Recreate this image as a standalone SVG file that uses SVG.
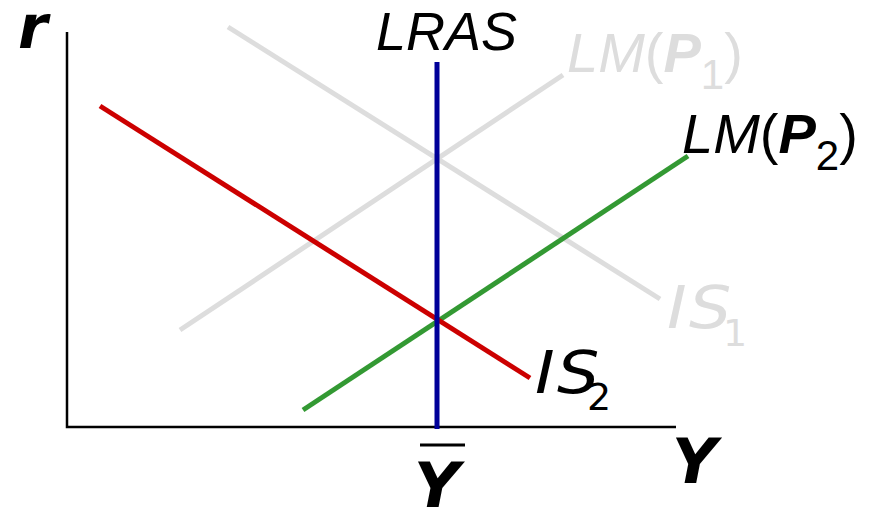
<svg xmlns="http://www.w3.org/2000/svg" width="877" height="510" viewBox="0 0 877 510">
<style>
.ax{stroke:#000;stroke-width:2.5;fill:none}
.crv{stroke-width:5;fill:none;stroke-linecap:butt}
.ar{font-family:"Liberation Sans",Arial,sans-serif;font-style:italic}
.vd{font-family:"DejaVu Sans",Verdana,sans-serif;font-style:oblique}
.bd{font-weight:bold}
.up{font-style:normal}
</style>
<rect width="877" height="510" fill="#fff"/>
<g id="axes">
<polyline class="ax" points="67,32 67,427 676,427"/>
</g>
<g id="connectors">
<line id="lm1" class="crv" stroke="#DDDDDD" x1="180" y1="330" x2="563" y2="75"/>
<line id="is1" class="crv" stroke="#DDDDDD" x1="228" y1="27" x2="660" y2="299"/>
<line id="lm2" class="crv" stroke="#339933" x1="303" y1="410" x2="688" y2="156"/>
<line id="is2" class="crv" stroke="#CC0000" x1="100" y1="106" x2="530" y2="378"/>
<line id="lras" class="crv" stroke="#000099" x1="437" y1="62" x2="437" y2="429"/>
</g>
<g id="label-r"><text class="vd bd" x="18" y="48" font-size="60">r</text></g>
<g id="label-lras"><text class="ar" x="376" y="50" font-size="54">LRAS</text></g>
<g id="label-lm1" fill="#DDDDDD"><text class="ar" x="567" y="72" font-size="56">LM<tspan class="up">(</tspan><tspan class="bd">P</tspan><tspan class="up" font-size="42" dy="17">1</tspan><tspan class="up" dy="-17">)</tspan></text></g>
<g id="label-lm2" fill="#000"><text class="ar" x="682" y="153" font-size="56">LM<tspan class="up">(</tspan><tspan class="bd">P</tspan><tspan class="up" font-size="42" dy="17">2</tspan><tspan class="up" dy="-17">)</tspan></text></g>
<g id="label-is1" fill="#DDDDDD"><text class="vd" transform="translate(667,328) scale(1.15,1)" x="0" y="0" font-size="58" letter-spacing="2">IS</text><text class="vd up" x="723" y="346" font-size="38">1</text></g>
<g id="label-is2" fill="#000"><text class="vd" transform="translate(535,393) scale(1.15,1)" x="0" y="0" font-size="58" letter-spacing="2">IS</text><text class="vd up" x="587" y="410" font-size="38">2</text></g>
<g id="label-ybar"><text class="vd bd" x="414" y="507" font-size="63">Y</text><line x1="420" y1="445" x2="465" y2="445" stroke="#000" stroke-width="3"/></g>
<g id="label-y"><text class="vd bd" x="672" y="483" font-size="62">Y</text></g>
</svg>
